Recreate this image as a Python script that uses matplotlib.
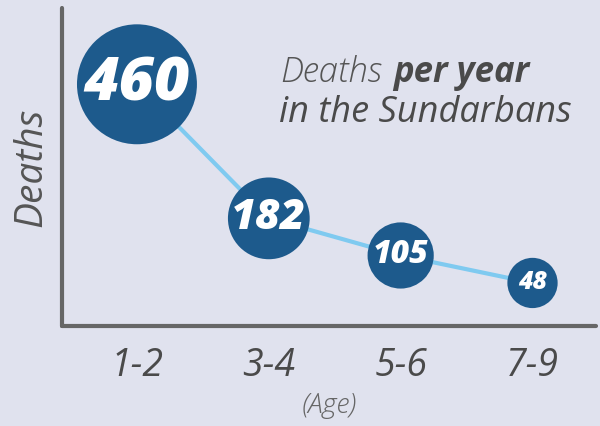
import numpy as np
import matplotlib
matplotlib.use("Agg")
from matplotlib import pyplot as plt

# Data
ages = ["1-2", "3-4", "5-6", "7-9"]
deaths = [460, 182, 105, 48]

bg = "#e0e2ee"
bubble_col = "#1d5a8c"
line_col = "#7fcaf0"
text_col = "#4a4a4a"

plt.rcParams["font.family"] = ["Open Sans", "DejaVu Sans"]

fig = plt.figure(figsize=(6, 4.26), dpi=100, facecolor=bg)
ax = fig.add_axes([0.103, 0.235, 0.89, 0.746], facecolor=bg)

x = np.arange(len(ages))
vals = np.array(deaths)

# bubble radius grows with sqrt of deaths
radius_px = 2.4 * np.sqrt(vals) + 8.5
sizes = (2 * radius_px * 0.72) ** 2

ax.plot(x, vals, color=line_col, lw=3, zorder=1, solid_capstyle="round")
ax.scatter(x, vals, s=sizes, color=bubble_col, edgecolor="none", zorder=2)

font_sizes = [44, 31, 23, 18]
for xi, v, fs in zip(x, vals, font_sizes):
    ax.text(xi, v, str(v), ha="center", va="center", color="white",
            fontsize=fs, fontweight="heavy", fontstyle="italic", zorder=3)

ax.set_xlim(-0.57, 3.48)
ax.set_ylim(-41, 618)

ax.set_xticks(x)
ax.set_xticklabels(ages, fontsize=27, fontstyle="italic", color=text_col)
ax.tick_params(axis="x", length=0, pad=15)
ax.set_yticks([])

for s in ["top", "right"]:
    ax.spines[s].set_visible(False)
for s in ["left", "bottom"]:
    ax.spines[s].set_color("#666666")
    ax.spines[s].set_linewidth(3)
    ax.spines[s].set_capstyle("round")

ax.set_ylabel("Deaths", fontsize=28, fontstyle="italic", color="#555555", labelpad=8)
ax.set_xlabel("(Age)", fontsize=20, fontstyle="italic", fontweight="light",
              color="#666666", labelpad=5)

# Title in pieces
fig.text(280 / 600, 1 - 82 / 426, "Deaths", fontsize=25, fontstyle="italic",
         fontweight="light", color="#555555", ha="left", va="baseline")
fig.text(393 / 600, 1 - 82 / 426, "per year", fontsize=25, fontstyle="italic",
         fontweight="bold", color=text_col, ha="left", va="baseline")
fig.text(279 / 600, 1 - 122 / 426, "in the Sundarbans", fontsize=26,
         fontstyle="italic", fontweight="medium", color=text_col,
         ha="left", va="baseline")

fig.savefig("out.png", dpi=100, facecolor=bg)
